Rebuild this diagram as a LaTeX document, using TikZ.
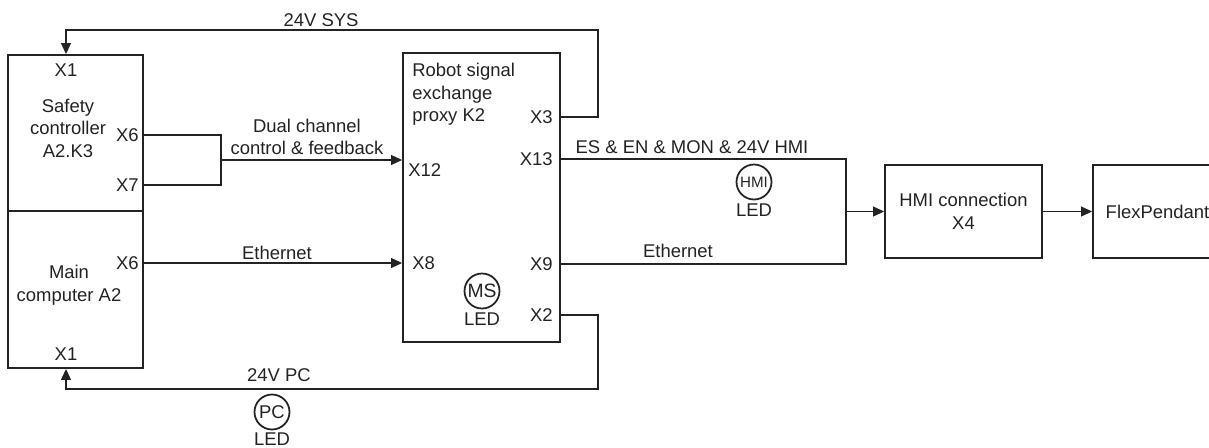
\documentclass[tikz,border=0pt]{standalone}
\usepackage{fontspec}
\setmainfont{Liberation Sans}
\usepackage{xcolor}
\usetikzlibrary{arrows.meta, positioning, calc}
\definecolor{linegray}{RGB}{35, 35, 35}
\newcommand{\lblfont}{\fontsize{10.5}{12.8}\selectfont}
\tikzset{
    unit/.style={rectangle, draw=linegray, line width=1.1pt, inner sep=0pt},
    port/.style={inner sep=0pt, font=\lblfont, text=linegray},
    txt/.style={inner sep=0pt, align=center, font=\lblfont, text=linegray},
    wire/.style={line width=0.6pt, draw=linegray},
    arr/.style={wire, -{Triangle[length=0.22cm, width=0.2cm]}},
    led/.style={circle, draw=linegray, line width=1pt, minimum size=0.7cm,
                inner sep=0pt, text=linegray, font=\fontsize{11}{12}\selectfont},
}

\begin{document}
\begin{tikzpicture}[x=0.02cm, y=-0.02cm]
    \useasboundingbox (0,0) rectangle (1209,447);
    \clip (0,0) rectangle (1209,447);

    % units
    \node[unit, minimum width=2.7cm, minimum height=3.12cm] (safety) at (75.5,133) {};
    \node[unit, minimum width=2.7cm, minimum height=3.14cm] (main) at (75.5,289.5) {};
    \node[unit, minimum width=3.14cm, minimum height=5.78cm] (proxy) at (481.5,197.5) {};
    \node[unit, minimum width=3.14cm, minimum height=1.86cm, txt] (hmi) at (963.5,211.5) {HMI connection\\X4};
    \node[unit, minimum width=2.58cm, minimum height=1.86cm, txt] (flex) at (1157.5,211.5) {FlexPendant};

    % unit texts
    \node[txt] (safetytxt) at (68,128) {Safety\\controller\\A2.K3};
    \node[txt] (maintxt) at (69,285) {Main\\computer A2};
    \node[txt, align=left, anchor=north west] (proxytxt) at (412,63) {Robot signal\\exchange\\proxy K2};

    % ports
    \node[port] (sx1) at (66,70) {X1};
    \node[port, anchor=east] (sx6) at (139,135) {X6};
    \node[port, anchor=east] (sx7) at (139,185) {X7};
    \node[port, anchor=east] (mx6) at (139,263) {X6};
    \node[port] (mx1) at (66,354) {X1};
    \node[port, anchor=west] (px12) at (408,170) {X12};
    \node[port, anchor=west] (px8) at (412,263) {X8};
    \node[port, anchor=east] (px3) at (553,117) {X3};
    \node[port, anchor=east] (px13) at (553,159) {X13};
    \node[port, anchor=east] (px9) at (553,264) {X9};
    \node[port, anchor=east] (px2) at (553,315) {X2};

    % LEDs
    \node[led, font=\fontsize{8.6}{9}\selectfont] (hmiled) at (754,182) {HMI};
    \node[port, below=2pt of hmiled] (hmiledtxt) {LED};
    \node[led] (msled) at (482,291) {MS};
    \node[port, below=2pt of msled] (msledtxt) {LED};
    \node[led, font=\fontsize{10.5}{11}\selectfont] (pcled) at (272,412) {PC};
    \node[port, below=1pt of pcled] (pcledtxt) {LED};

    % bend points
    \coordinate (dualjoin) at (221,160);
    \coordinate (sysbend) at (598,30);
    \coordinate (pcbend) at (598,389);
    \coordinate (hmijoin) at (846,211.5);

    % connectors
    \draw[wire] (safety.east |- sx6) -| (dualjoin) |- (safety.east |- sx7);
    \draw[arr] (dualjoin) -- (proxy.west |- dualjoin);
    \draw[arr] (main.east |- mx6) -- (proxy.west |- mx6);
    \draw[arr] (proxy.east |- px3) -| (sysbend) -| (sx1 |- safety.north);
    \draw[arr] (proxy.east |- px2) -| (pcbend) -| (mx1 |- main.south);
    \draw[wire] (proxy.east |- px13) -| (hmijoin);
    \draw[wire] (proxy.east |- px9) -| (hmijoin);
    \draw[arr] (hmijoin) -- (hmi);
    \draw[arr] (hmi) -- (flex);

    % wire labels
    \node[txt] (syslbl) at (321,20) {24V SYS};
    \node[txt] (duallbl) at (307,137) {Dual channel\\control \& feedback};
    \node[txt] (eth1lbl) at (277,253) {Ethernet};
    \node[txt] (pclbl) at (279,375) {24V PC};
    \node[txt] (hmilbl) at (692,147) {ES \& EN \& MON \& 24V HMI};
    \node[txt] (eth2lbl) at (678,251) {Ethernet};
\end{tikzpicture}
\end{document}
